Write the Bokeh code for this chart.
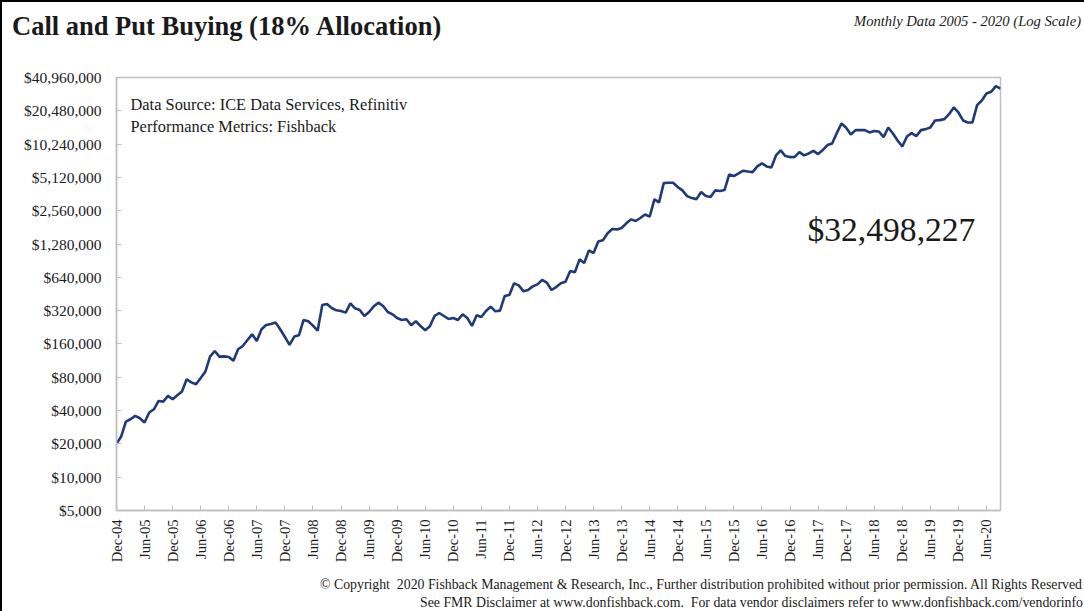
from bokeh.plotting import figure
from bokeh.layouts import column
from bokeh.models import (FixedTicker, NumeralTickFormatter, Label, Range1d,
                          LinearScale, Div)
from bokeh.embed import file_html
from bokeh.resources import INLINE

# ---- data (month index 0 = Dec-04, monthly) ----
months = list(range(190))
values = [
    20000, 23300, 31800, 33400, 35800, 34100, 31200, 38400, 41100, 48900,
    48200, 54300, 50600, 55000, 59400, 76800, 72000, 69200, 78900, 90000,
    123000, 138300, 123000, 123500, 122000, 113100, 143200, 153500, 173900, 195600,
    170300, 217100, 237600, 242400, 249500, 217100, 185100, 156700, 186400, 191600,
    263600, 256500, 234200, 211100, 359900, 367700, 338200, 322300, 317800, 307000,
    372700, 336000, 324500, 286400, 311300, 350100, 377900, 352500, 311300, 296600,
    274700, 263600, 267400, 235800, 256500, 232700, 212600, 231000, 286400, 304800,
    286400, 269100, 274700, 263600, 296600, 274700, 232700, 290300, 280500, 317800,
    347700, 315600, 320000, 434300, 443300, 564900, 541800, 478500, 491700, 530600,
    552800, 605900, 572900, 491700, 523100, 564900, 585100, 730100, 709900, 930900,
    862300, 1122200, 1061100, 1351800, 1383800, 1600000, 1750400, 1735600, 1788600, 1969200,
    2138900, 2068700, 2202000, 2367600, 2262400, 3240500, 3045400, 4551100, 4581000, 4581000,
    4188100, 3908400, 3471200, 3330100, 3260000, 3775000, 3471200, 3402000, 3908400, 3853000,
    3934700, 5447000, 5264800, 5565200, 5885100, 5801700, 5720700, 6440300, 6849500, 6440300,
    6301500, 8094900, 8982500, 7984400, 7816800, 7850000, 8678000, 8094900, 8428000, 8904300,
    8325200, 9042000, 10039000, 10382800, 12872400, 15735700, 14382000, 12518300, 13699000, 13699000,
    13699000, 13053000, 13420700, 13325000, 11845000, 14482000, 12784000, 11050000, 9757000, 12008000,
    12872400, 12093000, 13699000, 13989000, 14482000, 16752000, 16870000, 17224000, 19104000, 21951000,
    19778000, 16752000, 16069000, 16069000, 23038000, 25394000, 29362000, 30408000, 34219000, 32498227,
]
x_ticks = list(range(0, 187, 6))
x_tick_labels = [
    "Dec-04", "Jun-05", "Dec-05", "Jun-06", "Dec-06", "Jun-07", "Dec-07", "Jun-08",
    "Dec-08", "Jun-09", "Dec-09", "Jun-10", "Dec-10", "Jun-11", "Dec-11", "Jun-12",
    "Dec-12", "Jun-13", "Dec-13", "Jun-14", "Dec-14", "Jun-15", "Dec-15", "Jun-16",
    "Dec-16", "Jun-17", "Dec-17", "Jun-18", "Dec-18", "Jun-19", "Dec-19", "Jun-20",
]
y_ticks = [5000, 10000, 20000, 40000, 80000, 160000, 320000, 640000, 1280000,
           2560000, 5120000, 10240000, 20480000, 40960000]

title_text = "Call and Put Buying (18% Allocation)"
subtitle_text = "Monthly Data 2005 - 2020 (Log Scale)"
source_lines = ["Data Source: ICE Data Services, Refinitiv", "Performance Metrics: Fishback"]
final_text = "$32,498,227"
footer_lines = [
    "&copy; Copyright&nbsp; 2020 Fishback Management &amp; Research, Inc., Further distribution prohibited without prior permission. All Rights Reserved",
    "See FMR Disclaimer at www.donfishback.com.&nbsp; For data vendor disclaimers refer to www.donfishback.com/vendorinfo",
]

SERIF = "Liberation Serif"
TXT = "#1a1a1a"
GRAY = "#BFBFBF"

SPAN = ("position:absolute;line-height:1;white-space:nowrap;margin:0;padding:0;")

# ---- header (page y 0..60) ----
header_html = (
    f'<div style="position:relative;width:1082px;height:60px;border-top:2px solid #000;'
    f'box-sizing:border-box;font-family:\'{SERIF}\';color:{TXT};overflow:hidden">'
    f'<span style="{SPAN}left:10px;top:11px;font-size:26.5px;font-weight:bold">{title_text}</span>'
    f'<span style="{SPAN}right:3px;top:11.5px;font-size:14.6px;font-style:italic">{subtitle_text}</span>'
    '</div>'
)
header = Div(text=header_html, width=1082, height=60, margin=0)

# ---- main chart (page y 60..573, frame 77..510, x 116..1000) ----
p = figure(width=1082, height=513, y_axis_type="log",
           x_range=Range1d(0, 189), y_range=Range1d(5000, 40960000),
           output_backend="svg", toolbar_location=None, title=None,
           min_border_left=114, min_border_right=84,
           min_border_top=17, min_border_bottom=63,
           extra_x_ranges={"px": Range1d(116, 1000)},
           extra_y_ranges={"px": Range1d(510, 77)},
           extra_y_scales={"px": LinearScale()})
p.background_fill_color = "white"
p.border_fill_color = "white"
p.outline_line_color = GRAY
p.outline_line_width = 1.5
p.xgrid.visible = False
p.ygrid.visible = False

p.line(months, values, line_color="#1F3A78", line_width=2.6)

xa = p.xaxis[0]
xa.ticker = FixedTicker(ticks=x_ticks)
xa.major_label_overrides = {t: l for t, l in zip(x_ticks, x_tick_labels)}
xa.major_label_orientation = 3.14159265 / 2
xa.minor_tick_line_color = None
xa.major_tick_in = 5
xa.major_tick_out = 0
xa.major_tick_line_color = GRAY
xa.axis_line_color = GRAY
xa.axis_line_width = 1.5
xa.major_label_text_font = SERIF
xa.major_label_text_font_size = "14.5px"
xa.major_label_text_color = TXT
xa.major_label_standoff = 9

ya = p.yaxis[0]
ya.ticker = FixedTicker(ticks=y_ticks)
ya.formatter = NumeralTickFormatter(format="$0,0")
ya.minor_tick_line_color = None
ya.major_tick_in = 5
ya.major_tick_out = 0
ya.major_tick_line_color = GRAY
ya.axis_line_color = GRAY
ya.axis_line_width = 1.5
ya.major_label_text_font = SERIF
ya.major_label_text_font_size = "15.5px"
ya.major_label_text_color = TXT
ya.major_label_standoff = 15


def lab(x, y, text, size):
    p.add_layout(Label(x=x, y=y, text=text, x_range_name="px", y_range_name="px",
                       text_font=SERIF, text_font_size=size, text_color=TXT,
                       text_align="left", text_baseline="alphabetic"))


lab(130, 104, source_lines[0], "16.4px")
lab(130, 126, source_lines[1], "16.4px")
lab(807, 229, final_text, "33.6px")

# ---- footer (page y 573..611) ----
footer_html = (
    f'<div style="position:relative;width:1082px;height:38px;'
    f'font-family:\'{SERIF}\';color:{TXT};overflow:hidden">'
    f'<span style="{SPAN}right:2px;top:5.4px;font-size:13.8px">{footer_lines[0]}</span>'
    f'<span style="{SPAN}right:1px;top:22.9px;font-size:13.8px">{footer_lines[1]}</span>'
    '</div>'
)
footer = Div(text=footer_html, width=1082, height=38, margin=0)

layout = column(header, p, footer, spacing=0,
                styles={"border-left": "2px solid #000"})

open("out.html", "w").write(file_html(layout, INLINE))
